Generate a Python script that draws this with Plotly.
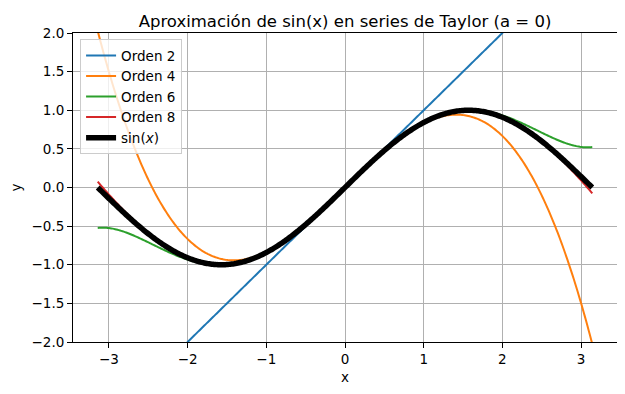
import numpy as np
import plotly.graph_objects as go

# Taylor expansion of sin(x) about a = 0
x_min, x_max, n_points = -np.pi, np.pi, 400
orders = [2, 4, 6, 8]
series_names = ["Orden 2", "Orden 4", "Orden 6", "Orden 8"]
series_colors = ["#1f77b4", "#ff7f0e", "#2ca02c", "#d62728"]
x_ticks = [-3, -2, -1, 0, 1, 2, 3]
y_ticks = [-2.0, -1.5, -1.0, -0.5, 0.0, 0.5, 1.0, 1.5, 2.0]

x = np.linspace(x_min, x_max, n_points)


def taylor_sin(xv, order):
    total = np.zeros_like(xv)
    k = 0
    while 2 * k + 1 <= order:
        n = 2 * k + 1
        total += ((-1) ** k) * xv ** n / np.prod(np.arange(1, n + 1))
        k += 1
    return total


fig = go.Figure()
for order, name, color in zip(orders, series_names, series_colors):
    fig.add_trace(go.Scatter(x=x, y=taylor_sin(x, order), mode="lines", name=name,
                             line=dict(color=color, width=2, simplify=False)))
fig.add_trace(go.Scatter(x=x, y=np.sin(x), mode="lines", name="sin(<i>x</i>)",
                         line=dict(color="black", width=5.5, simplify=False)))

font = "DejaVu Sans"
axis_common = dict(showline=True, linecolor="black", linewidth=1, mirror=True,
                   ticks="outside", ticklen=5, tickwidth=1, tickcolor="black",
                   showgrid=True, gridcolor="#b0b0b0", gridwidth=0.8, zeroline=False,
                   automargin=False,
                   tickfont=dict(family=font, size=13.5, color="black"))

fig.update_layout(
    width=625, height=394,
    margin=dict(l=65, r=16, t=25, b=60),
    paper_bgcolor="white", plot_bgcolor="white",
    font=dict(family=font, color="black"),
    title=dict(text="Aproximación de sin(x) en series de Taylor (a = 0)",
               x=0.5, xref="paper", xanchor="center",
               y=1, yref="paper", yanchor="bottom", pad=dict(b=6), automargin=False,
               font=dict(family=font, size=16.5, color="black")),
    xaxis=dict(range=[-1.1 * np.pi, 1.1 * np.pi], tickvals=x_ticks,
               title=dict(text="x", font=dict(family=font, size=13.5), standoff=6),
               **axis_common),
    yaxis=dict(range=[-2, 2], tickvals=y_ticks, tickformat=".1f",
               title=dict(text="y", font=dict(family=font, size=13.5), standoff=7),
               **axis_common),
    legend=dict(x=0.013, y=0.98, xanchor="left", yanchor="top",
                bgcolor="rgba(255,255,255,0.8)", bordercolor="#cccccc", borderwidth=1,
                font=dict(family=font, size=13.5, color="black"),
                tracegroupgap=0, itemwidth=30),
    showlegend=True,
)

fig.write_html("out.html")
